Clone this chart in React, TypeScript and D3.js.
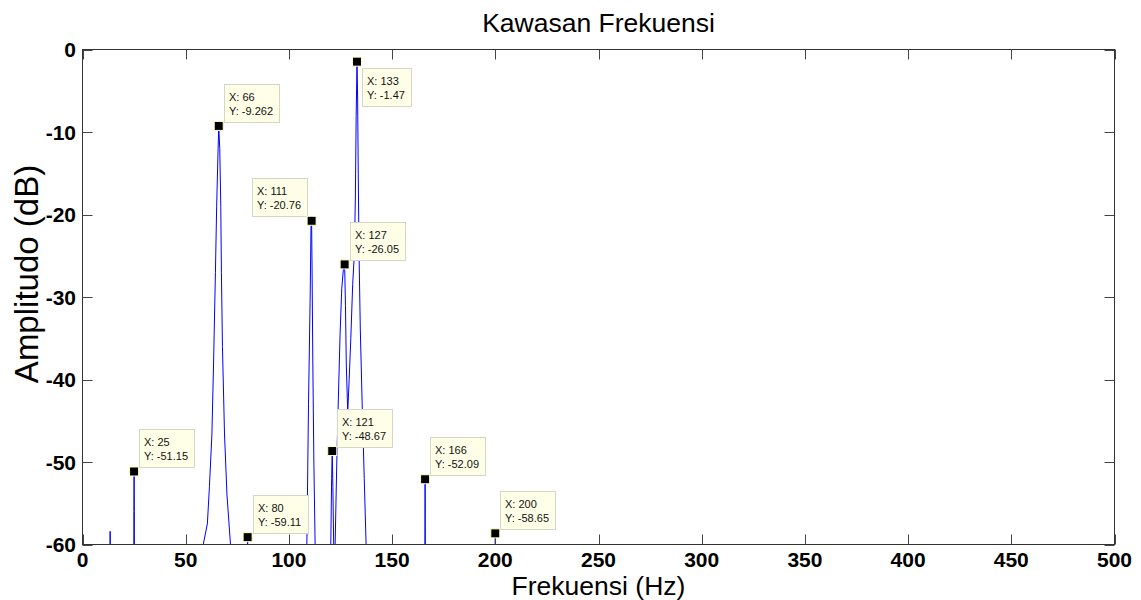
import React from "react";
import * as d3 from "d3";

// Spectrum samples [frequency (Hz), amplitude (dB)] – values below -60 fall outside the axes and are clipped
const spectrum: [number, number][] = [
  [0, -90], [13.2, -90], [13.4, -58.4], [13.6, -90],
  [24.7, -90], [24.9, -56], [25, -51.15], [25.1, -56], [25.3, -90],
  [57.5, -80], [58.5, -60], [60.5, -57.5], [61.5, -53], [62.7, -46.6], [63.5, -38], [64.4, -27],
  [65, -19], [65.5, -14], [66, -9.262], [66.5, -12], [67, -19], [67.3, -27], [67.8, -36],
  [68.8, -46.6], [70, -54], [71.7, -60], [72.5, -75],
  [79.8, -70], [80, -59.11], [80.2, -70],
  [108, -80], [108.7, -60], [109.5, -43], [110.3, -30], [110.7, -21.5], [111, -20.76],
  [111.2, -26], [111.6, -38], [112.1, -50], [112.7, -60], [113.3, -80],
  [120, -75], [120.3, -60], [120.7, -52], [121, -48.67], [121.3, -53], [121.7, -60], [122, -75],
  [122.4, -60], [123.2, -50], [124, -42], [124.8, -34.5], [125.6, -29], [126.5, -26.3],
  [127, -26.05], [127.4, -31], [127.8, -38], [128.5, -44],
  [129.2, -40], [130, -35], [130.9, -28.5], [131.7, -24.8], [132.2, -18], [132.6, -8],
  [133, -1.47], [133.3, -6], [133.6, -15], [134, -25], [134.6, -34], [135.5, -43],
  [136.5, -52], [137.4, -60], [138.2, -80],
  [165.8, -70], [166, -52.09], [166.2, -70],
  [199.8, -70], [200, -58.65], [200.2, -70],
  [500, -90],
];

// Data tips
const tipX = [25, 66, 80, 111, 121, 127, 133, 166, 200];
const tipY = [-51.15, -9.262, -59.11, -20.76, -48.67, -26.05, -1.47, -52.09, -58.65];
const tipSide = ["ne", "ne", "ne", "nw", "ne", "ne", "se", "ne", "ne"];

const xTicks = [0, 50, 100, 150, 200, 250, 300, 350, 400, 450, 500];
const yTicks = [0, -10, -20, -30, -40, -50, -60];

const title = "Kawasan Frekuensi";
const xLabel = "Frekuensi (Hz)";
const yLabel = "Amplitudo (dB)";

const W = 1141;
const H = 600;
const L = 82.5, R = 1114.5, T = 49.5, B = 544.5;
const FONT = "'Liberation Sans', Arial, Helvetica, sans-serif";

const charW: Record<string, number> = {
  "0": 0.556, "1": 0.556, "2": 0.556, "3": 0.556, "4": 0.556, "5": 0.556, "6": 0.556,
  "7": 0.556, "8": 0.556, "9": 0.556, "-": 0.333, ".": 0.278, ":": 0.278, " ": 0.278,
  X: 0.667, Y: 0.667,
};
const textW = (s: string, size: number) =>
  s.split("").reduce((a, c) => a + (charW[c] ?? 0.556), 0) * size;

export default function App() {
  const x = d3.scaleLinear().domain([0, 500]).range([L, R]);
  const y = d3.scaleLinear().domain([-60, 0]).range([B, T]);
  const line = d3
    .line<[number, number]>()
    .x((d) => x(d[0]))
    .y((d) => y(d[1]));

  const tipFont = 11;
  const tips = tipX.map((tx, i) => {
    const mx = x(tx);
    const my = y(tipY[i]);
    const l1 = `X: ${tx}`;
    const l2 = `Y: ${tipY[i]}`;
    const bw = Math.round(Math.max(textW(l1, tipFont), textW(l2, tipFont)) + 10);
    const bh = 38;
    const side = tipSide[i];
    let bx = mx + 5;
    let by = my - 4 - bh;
    if (side === "se") {
      by = my + 6;
    } else if (side === "nw") {
      bx = mx - 5 - bw;
      by = my - 5 - bh;
    }
    bx = Math.round(bx) + 0.5;
    by = Math.round(by) + 0.5;
    return { mx, my, bx, by, bw, bh, l1, l2 };
  });

  return (
    <svg
      width={W}
      height={H}
      style={{ position: "absolute", left: 0, top: 0, display: "block", background: "#fff" }}
      fontFamily={FONT}
    >
      <defs>
        <clipPath id="plotclip">
          <rect x={L} y={T} width={R - L} height={B - T} />
        </clipPath>
      </defs>
      <rect x={L} y={T} width={R - L} height={B - T} fill="#fff" />

      {/* spectrum */}
      <path
        d={line(spectrum) ?? ""}
        fill="none"
        stroke="#0000ff"
        strokeWidth={1}
        clipPath="url(#plotclip)"
      />

      {/* ticks */}
      {xTicks.map((t) => (
        <g key={"xt" + t}>
          <line x1={Math.round(x(t)) + 0.5} x2={Math.round(x(t)) + 0.5} y1={B} y2={B - 10} stroke="#444" />
          <line x1={Math.round(x(t)) + 0.5} x2={Math.round(x(t)) + 0.5} y1={T} y2={T + 10} stroke="#444" />
          <text
            x={x(t)}
            y={566.5}
            textAnchor="middle"
            fontSize={21}
            fontWeight="bold"
            fill="#000"
          >
            {t}
          </text>
        </g>
      ))}
      {yTicks.map((t) => (
        <g key={"yt" + t}>
          <line x1={L} x2={L + 10} y1={Math.round(y(t)) + 0.5} y2={Math.round(y(t)) + 0.5} stroke="#444" />
          <line x1={R} x2={R - 10} y1={Math.round(y(t)) + 0.5} y2={Math.round(y(t)) + 0.5} stroke="#444" />
          <text
            x={76}
            y={y(t) + 7.5}
            textAnchor="end"
            fontSize={21}
            fontWeight="bold"
            fill="#000"
          >
            {t}
          </text>
        </g>
      ))}

      {/* axes box */}
      <rect x={L} y={T} width={R - L} height={B - T} fill="none" stroke="#333" strokeWidth={1} />

      {/* data tips */}
      {tips.map((t, i) => (
        <g key={"tip" + i}>
          <rect x={t.bx} y={t.by} width={t.bw} height={t.bh} fill="#ffffe8" stroke="#d6d6c6" strokeWidth={1} />
          <text x={t.bx + 4.5} y={t.by + 16} fontSize={tipFont} fill="#111">
            {t.l1}
          </text>
          <text x={t.bx + 4.5} y={t.by + 30} fontSize={tipFont} fill="#111">
            {t.l2}
          </text>
          <rect
            x={t.mx - 4.5}
            y={t.my - 4.5}
            width={9}
            height={9}
            fill="#000"
            stroke="#ffffc8"
            strokeWidth={1}
          />
        </g>
      ))}

      {/* labels */}
      <text x={(L + R) / 2} y={32} textAnchor="middle" fontSize={26.5} fill="#000">
        {title}
      </text>
      <text x={(L + R) / 2} y={595} textAnchor="middle" fontSize={26.5} fill="#000">
        {xLabel}
      </text>
      <text
        transform={`translate(38, 274) rotate(-90)`}
        textAnchor="middle"
        fontSize={33}
        fill="#000"
      >
        {yLabel}
      </text>
    </svg>
  );
}
